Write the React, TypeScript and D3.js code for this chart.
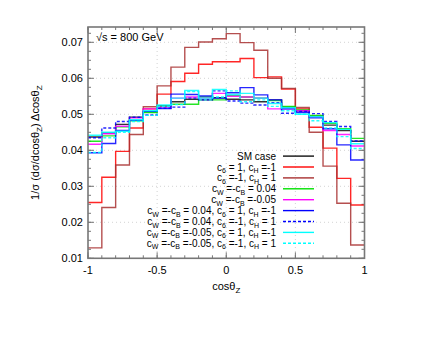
import React from "react";
import * as d3 from "d3";

const binEdges = d3.range(21).map((i) => -1 + i * 0.1);

const smCase = [0.0437, 0.0448, 0.0472, 0.0492, 0.0507, 0.0524, 0.0535, 0.0542, 0.0540, 0.0546, 0.0542, 0.0540, 0.0535, 0.0540, 0.0520, 0.0510, 0.0495, 0.0470, 0.0455, 0.0425];
const c6p1 = [0.0255, 0.0325, 0.0397, 0.0462, 0.0515, 0.0556, 0.0591, 0.0614, 0.0639, 0.0646, 0.0646, 0.0655, 0.0602, 0.0604, 0.0570, 0.0515, 0.0464, 0.0406, 0.0322, 0.0248];
const c6m1 = [0.0129, 0.0241, 0.0359, 0.0444, 0.0521, 0.0579, 0.0631, 0.0686, 0.0701, 0.0710, 0.0724, 0.0699, 0.0678, 0.0600, 0.0572, 0.0519, 0.0450, 0.0356, 0.0253, 0.0137];
const cw004 = [0.0425, 0.0440, 0.0465, 0.0482, 0.0505, 0.0522, 0.0528, 0.0528, 0.0548, 0.0540, 0.0552, 0.0548, 0.0545, 0.0538, 0.0522, 0.0512, 0.0497, 0.0475, 0.0460, 0.0433];
const cwm005 = [0.0417, 0.0446, 0.0467, 0.0490, 0.0515, 0.0520, 0.0545, 0.0548, 0.0545, 0.0558, 0.0550, 0.0548, 0.0545, 0.0515, 0.0515, 0.0510, 0.0492, 0.0455, 0.0444, 0.0412];
const cw004c6p1 = [0.0393, 0.0419, 0.0455, 0.0483, 0.0508, 0.0516, 0.0556, 0.0555, 0.0551, 0.0545, 0.0560, 0.0574, 0.0554, 0.0540, 0.0515, 0.0505, 0.0490, 0.0460, 0.0415, 0.0373];
const cw004c6m1 = [0.0435, 0.0462, 0.0480, 0.0492, 0.0498, 0.0517, 0.0520, 0.0545, 0.0540, 0.0565, 0.0537, 0.0531, 0.0526, 0.0532, 0.0503, 0.0508, 0.0502, 0.0480, 0.0466, 0.0426];
const cwm005c6p1 = [0.0442, 0.0450, 0.0453, 0.0485, 0.0510, 0.0526, 0.0545, 0.0566, 0.0545, 0.0569, 0.0555, 0.0558, 0.0545, 0.0530, 0.0518, 0.0500, 0.0493, 0.0477, 0.0458, 0.0418];
const cwm005c6m1 = [0.0394, 0.0435, 0.0450, 0.0480, 0.0497, 0.0522, 0.0527, 0.0563, 0.0540, 0.0548, 0.0565, 0.0535, 0.0540, 0.0522, 0.0510, 0.0500, 0.0482, 0.0462, 0.0438, 0.0405];

const xTicks = [-1, -0.5, 0, 0.5, 1];
const xTickLabels = ["-1", "-0.5", "0", "0.5", "1"];
const yTicks = [0.01, 0.02, 0.03, 0.04, 0.05, 0.06, 0.07];
const yTickLabels = ["0.01", "0.02", "0.03", "0.04", "0.05", "0.06", "0.07"];

type Part = { t: string; sub?: boolean };
type Series = { values: number[]; color: string; dash?: string; label: Part[] };

const cw = (v: string): Part[] => [
  { t: "c" }, { t: "W", sub: true }, { t: " =-c" }, { t: "B", sub: true }, { t: v },
];
const c6 = (v: string): Part[] => [
  { t: "c" }, { t: "6", sub: true }, { t: v }, { t: "H", sub: true },
];

const series: Series[] = [
  { values: smCase, color: "#111111", label: [{ t: "SM case" }] },
  { values: c6p1, color: "#ff0000", label: c6(" = 1, c").concat([{ t: " =-1" }]) },
  { values: c6m1, color: "#a83030", label: c6(" =-1, c").concat([{ t: " = 1" }]) },
  { values: cw004, color: "#00e000", label: cw(" = 0.04") },
  { values: cwm005, color: "#ff00ff", label: cw(" =-0.05") },
  { values: cw004c6p1, color: "#0000ff", label: cw(" = 0.04, ").concat(c6(" = 1, c"), [{ t: " =-1" }]) },
  { values: cw004c6m1, color: "#0000ff", dash: "3,2", label: cw(" = 0.04, ").concat(c6(" =-1, c"), [{ t: " = 1" }]) },
  { values: cwm005c6p1, color: "#00ffff", label: cw(" =-0.05, ").concat(c6(" = 1, c"), [{ t: " =-1" }]) },
  { values: cwm005c6m1, color: "#00ffff", dash: "3,2", label: cw(" =-0.05, ").concat(c6(" =-1, c"), [{ t: " = 1" }]) },
];

const W = 436, H = 337;
const left = 88, right = 364.5, top = 27, bottom = 258.3;
const font = "'Liberation Sans', Arial, sans-serif";

export default function App() {
  const x = d3.scaleLinear().domain([-1, 1]).range([left, right]);
  const y = d3.scaleLinear().domain([0.01, 0.07425]).range([bottom, top]);
  const line = d3
    .line<[number, number]>()
    .x((d) => x(d[0]))
    .y((d) => y(d[1]))
    .curve(d3.curveStepAfter);

  const xMinor = d3.range(21).map((i) => -1 + i * 0.1);
  const yMinor = d3.range(0, 27).map((i) => 0.01 + i * 0.0025).filter((v) => v <= 0.0742);

  const renderParts = (parts: Part[]) =>
    parts.map((p, i) =>
      p.sub ? (
        <tspan key={i} fontSize={7} dy={2.5}>{p.t}</tspan>
      ) : (
        <tspan key={i} dy={i > 0 && parts[i - 1].sub ? -2.5 : 0}>{p.t}</tspan>
      )
    );

  const legendY0 = 156.1;
  const legendDy = 10.9;

  return (
    <svg width={W} height={H} style={{ position: "absolute", left: 0, top: 0 }} fontFamily={font}>
      <rect width={W} height={H} fill="#fff" />
      {/* grid */}
      <g stroke="#c8c8c8" strokeWidth={0.8} strokeDasharray="1,3">
        {xTicks.slice(1, -1).map((t) => (
          <line key={"gx" + t} x1={x(t)} x2={x(t)} y1={top} y2={bottom} />
        ))}
        {yTicks.slice(1).map((t) => (
          <line key={"gy" + t} x1={left} x2={right} y1={y(t)} y2={y(t)} />
        ))}
      </g>
      {/* minor ticks */}
      <g stroke="#777" strokeWidth={1}>
        {xMinor.map((t, i) => (
          <g key={"xm" + i}>
            <line x1={x(t)} x2={x(t)} y1={bottom} y2={bottom - 3} />
            <line x1={x(t)} x2={x(t)} y1={top} y2={top + 3} />
          </g>
        ))}
        {yMinor.map((t, i) => (
          <g key={"ym" + i}>
            <line x1={left} x2={left + 3} y1={y(t)} y2={y(t)} />
            <line x1={right} x2={right - 3} y1={y(t)} y2={y(t)} />
          </g>
        ))}
        {xTicks.map((t) => (
          <g key={"xM" + t}>
            <line x1={x(t)} x2={x(t)} y1={bottom} y2={bottom - 6} />
            <line x1={x(t)} x2={x(t)} y1={top} y2={top + 6} />
          </g>
        ))}
        {yTicks.map((t) => (
          <g key={"yM" + t}>
            <line x1={left} x2={left + 6} y1={y(t)} y2={y(t)} />
            <line x1={right} x2={right - 6} y1={y(t)} y2={y(t)} />
          </g>
        ))}
      </g>
      {/* series */}
      <g fill="none">
        {series.map((s, i) => {
          const pts: [number, number][] = s.values.map((v, k) => [binEdges[k], v] as [number, number]);
          pts.push([binEdges[20], s.values[19]]);
          return (
            <path key={i} d={line(pts) || ""} stroke={s.color} strokeWidth={1.4} strokeDasharray={s.dash} strokeOpacity={0.85} />
          );
        })}
      </g>
      {/* frame */}
      <rect x={left} y={top} width={right - left} height={bottom - top} fill="none" stroke="#777" strokeWidth={1.6} />
      {/* tick labels */}
      <g fontSize={11} fill="#000">
        {yTicks.map((t, i) => (
          <text key={"yl" + t} x={left - 5} y={y(t) + 4} textAnchor="end">{yTickLabels[i]}</text>
        ))}
        {xTicks.map((t, i) => (
          <text key={"xl" + t} x={x(t)} y={274} textAnchor="middle">{xTickLabels[i]}</text>
        ))}
      </g>
      {/* axis titles */}
      <text x={x(0)} y={290} fontSize={11} textAnchor="middle">
        cosθ<tspan fontSize={8} dy={2.5}>Z</tspan>
      </text>
      <text transform={`translate(39,${(top + bottom) / 2}) rotate(-90)`} fontSize={11} textAnchor="middle">
        1/σ (dσ/dcosθ<tspan fontSize={8} dy={2.5}>Z</tspan><tspan dy={-2.5}>) Δcosθ</tspan><tspan fontSize={8} dy={2.5}>Z</tspan>
      </text>
      <text x={96} y={41} fontSize={11}>√s = 800 GeV</text>
      {/* legend */}
      <g fontSize={10}>
        {series.map((s, i) => {
          const ly = legendY0 + i * legendDy;
          return (
            <g key={"lg" + i}>
              <text x={276} y={ly + 3.5} textAnchor="end">{renderParts(s.label)}</text>
              <line x1={283} x2={314} y1={ly} y2={ly} stroke={s.color} strokeWidth={1.4} strokeDasharray={s.dash} />
            </g>
          );
        })}
      </g>
    </svg>
  );
}
